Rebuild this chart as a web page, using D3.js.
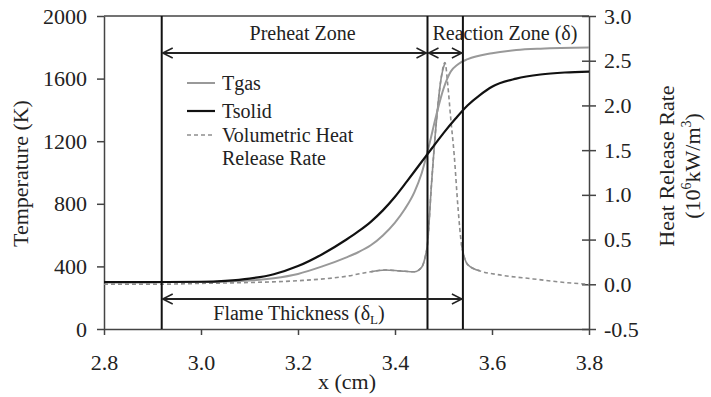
<!DOCTYPE html>
<html>
<head>
<meta charset="utf-8">
<script src="https://cdn.jsdelivr.net/npm/d3@7"></script>
<style>
  body { margin: 0; background: #fff; }
  svg text { fill: #222; }
</style>
</head>
<body>
<div class="vis-container"></div>
<script>
// x (cm), temperature (K)
const tgas = [
  [2.80, 300], [2.90, 300], [3.00, 300], [3.05, 303], [3.10, 310], [3.15, 325],
  [3.20, 352], [3.25, 400], [3.30, 458], [3.325, 492], [3.35, 535], [3.375, 598],
  [3.40, 680], [3.42, 765], [3.44, 875], [3.455, 995], [3.47, 1170], [3.485, 1365],
  [3.50, 1535], [3.515, 1645], [3.53, 1692], [3.55, 1724], [3.60, 1762], [3.65, 1782],
  [3.70, 1791], [3.80, 1798]
];
const tsolid = [
  [2.80, 300], [2.90, 300], [3.00, 302], [3.05, 308], [3.10, 322], [3.15, 350],
  [3.20, 402], [3.25, 478], [3.30, 572], [3.325, 625], [3.35, 685], [3.375, 758],
  [3.40, 845], [3.425, 945], [3.45, 1048], [3.475, 1150], [3.50, 1252], [3.525, 1345],
  [3.55, 1430], [3.575, 1495], [3.60, 1548], [3.65, 1600], [3.70, 1626], [3.75, 1639],
  [3.80, 1645]
];
// x (cm), heat release rate (10^6 kW/m^3)
const hrr = [
  [2.80, 0.00], [2.90, 0.00], [3.00, 0.01], [3.10, 0.02], [3.20, 0.04], [3.30, 0.09],
  [3.35, 0.14], [3.38, 0.16], [3.41, 0.15], [3.44, 0.14], [3.455, 0.19], [3.462, 0.30],
  [3.467, 0.45], [3.475, 1.10], [3.485, 1.80], [3.495, 2.30], [3.503, 2.48], [3.509, 2.22],
  [3.515, 1.85], [3.522, 1.45], [3.530, 0.85], [3.537, 0.45], [3.542, 0.32], [3.55, 0.22],
  [3.575, 0.15], [3.61, 0.11], [3.685, 0.06], [3.75, 0.02], [3.80, 0.00]
];
const xTicks = [2.8, 3.0, 3.2, 3.4, 3.6, 3.8];
const tTicks = [0, 400, 800, 1200, 1600, 2000];
const hTicks = [-0.5, 0.0, 0.5, 1.0, 1.5, 2.0, 2.5, 3.0];
// zone boundaries (cm)
const zoneEdges = [2.919, 3.467, 3.54];
const legendItems = ['Tgas', 'Tsolid', 'Volumetric Heat'];

const width = 711;
const height = 397;
const margin = {left: 104, right: 122, top: 16, bottom: 68};
const serif = 'Liberation Serif, Tinos, Nimbus Roman, Nimbus Roman No9 L, FreeSerif, Noto Serif, DejaVu Serif, Times, serif';

const svg = d3.select('.vis-container').append('svg')
  .attr('width', width)
  .attr('height', height)
  .style('font-family', serif);

const x = d3.scaleLinear().domain([2.8, 3.8]).range([margin.left, width - margin.right]);
const yT = d3.scaleLinear().domain([0, 2000]).range([height - margin.bottom, margin.top]);
const yH = d3.scaleLinear().domain([-0.5, 3.0]).range([height - margin.bottom, margin.top]);

const axisColor = '#444';
const fmt1 = d => d.toFixed(1);

// frame top
svg.append('line')
  .attr('x1', x(2.8)).attr('x2', x(3.8))
  .attr('y1', yT(2000)).attr('y2', yT(2000))
  .attr('stroke', axisColor).attr('stroke-width', 1.5);

const gLeft = svg.append('g')
  .attr('transform', `translate(${x(2.8)},0)`)
  .call(d3.axisLeft(yT).tickValues(tTicks).tickFormat(d => String(d)).tickSize(7).tickSizeOuter(0));
gLeft.selectAll('text').attr('x', -17);

const gBottom = svg.append('g')
  .attr('transform', `translate(0,${yT(0)})`)
  .call(d3.axisBottom(x).tickValues(xTicks).tickFormat(fmt1).tickSize(6).tickSizeOuter(0));
gBottom.selectAll('text').attr('y', 41).attr('dy', 0);

const gRight = svg.append('g')
  .attr('transform', `translate(${x(3.8)},0)`)
  .call(d3.axisRight(yH).tickValues(hTicks).tickFormat(fmt1).tickSize(7).tickSizeOuter(0));
gRight.selectAll('.tick line').attr('x1', -7).attr('x2', 7);
gRight.selectAll('text').attr('x', 15);

[gLeft, gBottom, gRight].forEach(g => {
  g.attr('font-family', null).attr('font-size', null);
  g.selectAll('path, line').attr('stroke', axisColor).attr('stroke-width', 1.5);
  g.selectAll('text').attr('fill', '#222').style('font-size', '22px');
});

// axis titles
svg.append('text')
  .attr('transform', `translate(28,${(yT(0) + yT(2000)) / 2 + 1}) rotate(-90)`)
  .attr('text-anchor', 'middle')
  .style('font-size', '22px')
  .text('Temperature (K)');

svg.append('text')
  .attr('x', 347).attr('y', 389)
  .attr('text-anchor', 'middle')
  .style('font-size', '22px')
  .text('x (cm)');

const rightTitle = svg.append('text')
  .attr('transform', `translate(674,166) rotate(-90)`)
  .attr('text-anchor', 'middle')
  .style('font-size', '22px');
rightTitle.append('tspan').attr('x', 0).attr('dy', 0).text('Heat Release Rate');
const t2 = rightTitle.append('tspan').attr('x', 0).attr('dy', 26).text('(10');
t2.append('tspan').attr('dy', -9).style('font-size', '14px').text('6');
t2.append('tspan').attr('dy', 9).text('kW/m');
t2.append('tspan').attr('dy', -9).style('font-size', '14px').text('3');
t2.append('tspan').attr('dy', 9).text(')');

// curves
const lineT = d3.line().x(d => x(d[0])).y(d => yT(d[1])).curve(d3.curveMonotoneX);
const lineH = d3.line().x(d => x(d[0])).y(d => yH(d[1])).curve(d3.curveMonotoneX);

svg.append('path')
  .datum(hrr)
  .attr('d', lineH)
  .attr('fill', 'none')
  .attr('stroke', '#8e8e8e')
  .attr('stroke-width', 1.6)
  .attr('stroke-dasharray', '4,3');

// dense data near the flame makes the dashes run together
[[3.34, 3.503], [3.537, 3.58]].forEach(r => {
  svg.append('path')
    .datum(hrr.filter(d => d[0] >= r[0] && d[0] <= r[1]))
    .attr('d', lineH)
    .attr('fill', 'none')
    .attr('stroke', '#8e8e8e')
    .attr('stroke-width', 1.6);
});

svg.append('path')
  .datum(tgas)
  .attr('d', lineT)
  .attr('fill', 'none')
  .attr('stroke', '#999')
  .attr('stroke-width', 2);

svg.append('path')
  .datum(tsolid)
  .attr('d', lineT)
  .attr('fill', 'none')
  .attr('stroke', '#111')
  .attr('stroke-width', 2.2);

// zone boundaries
svg.selectAll('.edge').data(zoneEdges)
  .enter().append('line')
    .attr('class', 'edge')
    .attr('x1', d => x(d)).attr('x2', d => x(d))
    .attr('y1', yT(0)).attr('y2', yT(2000))
    .attr('stroke', '#111')
    .attr('stroke-width', 2);

// arrows
const defs = svg.append('defs');
defs.append('marker')
  .attr('id', 'head')
  .attr('markerUnits', 'userSpaceOnUse')
  .attr('viewBox', '-1 -6 12 12')
  .attr('refX', 10).attr('refY', 0)
  .attr('markerWidth', 12).attr('markerHeight', 12)
  .attr('orient', 'auto-start-reverse')
  .append('path')
    .attr('d', 'M0,-5L10,0L0,5')
    .attr('fill', 'none')
    .attr('stroke', '#222')
    .attr('stroke-width', 1.5);

const arrows = [
  {from: zoneEdges[0], to: zoneEdges[1], y: 53},
  {from: zoneEdges[1], to: zoneEdges[2], y: 53},
  {from: zoneEdges[0], to: zoneEdges[2], y: 299}
];
svg.selectAll('.arrow').data(arrows)
  .enter().append('line')
    .attr('class', 'arrow')
    .attr('x1', d => x(d.from) + 1).attr('x2', d => x(d.to) - 1)
    .attr('y1', d => d.y).attr('y2', d => d.y)
    .attr('stroke', '#222')
    .attr('stroke-width', 1.8)
    .attr('marker-start', 'url(#head)')
    .attr('marker-end', 'url(#head)');

svg.append('text')
  .attr('x', (x(zoneEdges[0]) + x(zoneEdges[1])) / 2 + 8).attr('y', 40)
  .attr('text-anchor', 'middle')
  .style('font-size', '20px')
  .text('Preheat Zone');

svg.append('text')
  .attr('x', x(zoneEdges[1]) + 5).attr('y', 40)
  .style('font-size', '20px')
  .text('Reaction Zone (δ)');

const ft = svg.append('text')
  .attr('x', 299).attr('y', 320)
  .attr('text-anchor', 'middle')
  .style('font-size', '20px')
  .text('Flame Thickness (δ');
ft.append('tspan').attr('dy', 4).style('font-size', '13px').text('L');
ft.append('tspan').attr('dy', -4).text(')');

// legend
const legend = svg.append('g').attr('transform', 'translate(187,0)');
const legendStyles = [
  {stroke: '#999', width: 2, dash: null, y: 83},
  {stroke: '#111', width: 2.2, dash: null, y: 111},
  {stroke: '#8e8e8e', width: 1.6, dash: '4,3', y: 135}
];
legendItems.forEach((name, i) => {
  const s = legendStyles[i];
  legend.append('line')
    .attr('x1', 0).attr('x2', 28)
    .attr('y1', s.y).attr('y2', s.y)
    .attr('stroke', s.stroke)
    .attr('stroke-width', s.width)
    .attr('stroke-dasharray', s.dash);
  legend.append('text')
    .attr('x', 35).attr('y', s.y + 7)
    .style('font-size', '20px')
    .text(name);
});
legend.append('text')
  .attr('x', 35).attr('y', 165)
  .style('font-size', '20px')
  .text('Release Rate');
</script>
</body>
</html>
